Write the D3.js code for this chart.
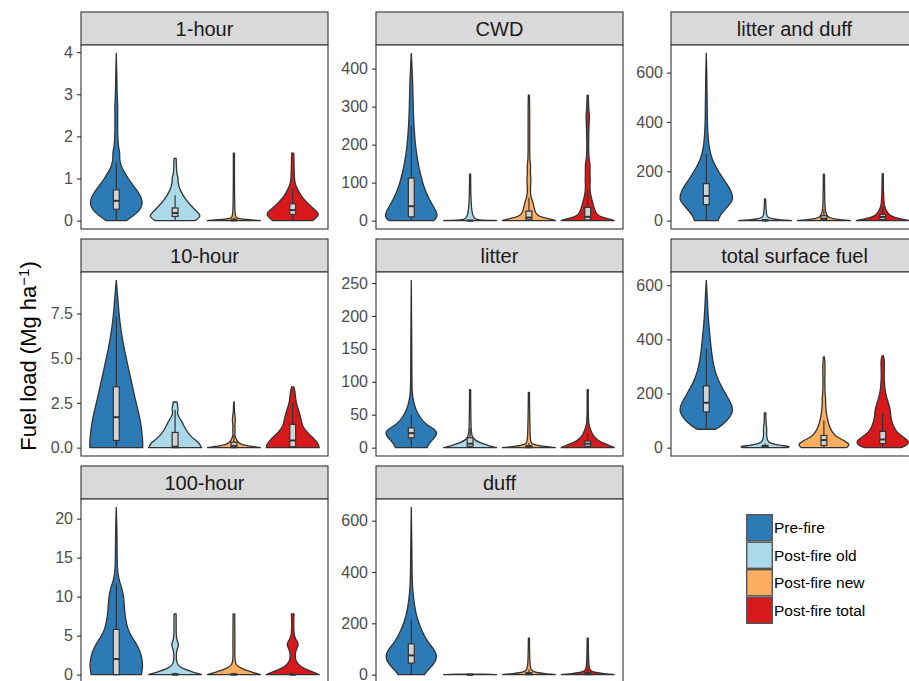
<!DOCTYPE html>
<html>
<head>
<meta charset="utf-8">
<script src="https://cdn.jsdelivr.net/npm/d3@7"></script>
<style>
  body { margin: 0; background: #fff; }
  svg { display: block; font-family: "Liberation Sans", Arial, Helvetica, sans-serif; }
</style>
</head>
<body>
<div class="chart"></div>
<script>
// groups and fill colours
const groups = ["Pre-fire", "Post-fire old", "Post-fire new", "Post-fire total"];
const fills = ["#2C7BB6", "#ABD9E9", "#FDAE61", "#D7191C"];

// facet names in reading order
const panelNames = ["1-hour", "CWD", "litter and duff", "10-hour", "litter", "total surface fuel", "100-hour", "duff"];

// y tick values for each facet
const ticks1hour = [0, 1, 2, 3, 4];
const ticksCWD = [0, 100, 200, 300, 400];
const ticksLitterDuff = [0, 200, 400, 600];
const ticks10hour = [0, 2.5, 5, 7.5];
const ticksLitter = [0, 50, 100, 150, 200, 250];
const ticksTotal = [0, 200, 400, 600];
const ticks100hour = [0, 5, 10, 15, 20];
const ticksDuff = [0, 200, 400, 600];

// violin outlines: [value, relative width] per group
const violin1hour = [
  [[0,0.38],[0.1,0.62],[0.25,0.9],[0.4,1.0],[0.55,0.95],[0.7,0.8],[0.85,0.62],[1.0,0.45],[1.15,0.3],[1.3,0.18],[1.45,0.12],[1.6,0.14],[1.75,0.08],[2.0,0.05],[2.5,0.05],[2.7,0.06],[3.0,0.03],[3.5,0.02],[3.97,0]],
  [[0,0.75],[0.1,1.0],[0.2,0.85],[0.3,0.68],[0.5,0.4],[0.7,0.2],[0.9,0.1],[1.03,0.12],[1.1,0.06],[1.3,0.05],[1.48,0.04]],
  [[0,1.0],[0.02,0.6],[0.05,0.1],[0.1,0.03],[1.0,0.02],[1.6,0.02]],
  [[0,0.75],[0.1,0.95],[0.18,1.0],[0.3,0.75],[0.45,0.5],[0.6,0.3],[0.75,0.18],[0.85,0.1],[1.0,0.06],[1.3,0.05],[1.6,0.04]]
];
const violinCWD = [
  [[0,0.85],[10,1.0],[25,0.95],[50,0.72],[75,0.55],[100,0.42],[150,0.25],[200,0.15],[250,0.1],[300,0.07],[350,0.06],[400,0.03],[440,0]],
  [[0,1.0],[2,0.3],[5,0.03],[122,0.02]],
  [[0,1.0],[3,0.9],[8,0.5],[15,0.3],[25,0.22],[40,0.18],[50,0.15],[60,0.08],[80,0.05],[100,0.07],[110,0.08],[125,0.05],[145,0.07],[160,0.03],[200,0.03],[300,0.03],[330,0.02]],
  [[0,1.0],[3,0.9],[8,0.55],[15,0.35],[30,0.25],[50,0.18],[70,0.1],[90,0.08],[105,0.1],[125,0.08],[145,0.1],[165,0.04],[200,0.03],[260,0.05],[275,0.07],[290,0.04],[330,0.02]]
];
const violinLitterDuff = [
  [[0,0.45],[20,0.5],[50,0.75],[80,1.0],[100,1.0],[130,0.9],[160,0.7],[200,0.45],[250,0.2],[300,0.1],[350,0.06],[400,0.04],[500,0.03],[600,0.02],[678,0]],
  [[0,1.0],[3,0.6],[8,0.2],[15,0.08],[30,0.04],[88,0.02]],
  [[0,1.0],[3,0.7],[8,0.3],[15,0.15],[25,0.1],[40,0.05],[80,0.03],[188,0.02]],
  [[0,1.0],[5,0.8],[12,0.45],[20,0.3],[30,0.2],[45,0.12],[60,0.06],[100,0.03],[190,0.02]]
];
const violin10hour = [
  [[0,1.0],[0.5,1.0],[1.5,0.92],[2.5,0.75],[3.5,0.6],[4.5,0.45],[5.5,0.3],[6.5,0.18],[7.5,0.1],[8.5,0.05],[9.35,0]],
  [[0,1.0],[0.3,0.9],[0.6,0.6],[1.0,0.4],[1.4,0.28],[1.7,0.15],[1.9,0.08],[2.1,0.12],[2.3,0.1],[2.55,0.07]],
  [[0,1.0],[0.05,0.8],[0.15,0.3],[0.3,0.15],[0.45,0.1],[0.6,0.05],[0.8,0.03],[1.0,0.05],[1.2,0.03],[1.4,0.05],[1.6,0.06],[1.8,0.04],[2.0,0.02],[2.55,0.01]],
  [[0,1.0],[0.3,0.95],[0.7,0.65],[1.0,0.45],[1.3,0.35],[1.7,0.3],[2.1,0.22],[2.5,0.13],[2.9,0.1],[3.2,0.08],[3.4,0.04]]
];
const violinLitter = [
  [[0,0.6],[5,0.65],[12,0.8],[20,1.0],[28,0.9],[35,0.55],[45,0.35],[55,0.2],[65,0.12],[72,0.08],[80,0.04],[100,0.02],[150,0.02],[254,0]],
  [[0,1.0],[3,0.7],[7,0.4],[12,0.15],[18,0.06],[30,0.03],[88,0.02]],
  [[0,1.0],[2,0.5],[5,0.1],[10,0.04],[84,0.02]],
  [[0,1.0],[4,0.8],[8,0.5],[14,0.3],[20,0.18],[28,0.1],[35,0.04],[50,0.02],[88,0.02]]
];
const violinTotal = [
  [[68,0.35],[80,0.55],[100,0.8],[130,1.0],[150,1.0],[180,0.85],[220,0.6],[260,0.4],[300,0.28],[350,0.2],[400,0.15],[450,0.1],[500,0.06],[550,0.04],[618,0]],
  [[0,0.8],[3,1.0],[8,0.6],[15,0.2],[25,0.08],[50,0.05],[70,0.07],[90,0.03],[128,0.03]],
  [[0,0.85],[10,1.0],[25,0.8],[40,0.45],[60,0.3],[80,0.2],[100,0.15],[120,0.1],[160,0.06],[180,0.07],[200,0.04],[250,0.03],[300,0.05],[335,0.02]],
  [[0,0.7],[10,0.95],[25,1.0],[40,0.75],[60,0.5],[80,0.4],[110,0.3],[140,0.3],[170,0.2],[200,0.1],[250,0.05],[300,0.06],[320,0.07],[340,0.02]]
];
const violin100hour = [
  [[0,0.95],[1,1.0],[2,0.98],[3,0.9],[4,0.75],[5,0.55],[6,0.42],[7,0.36],[8,0.32],[9,0.3],[10,0.28],[11,0.22],[12,0.12],[13,0.05],[15,0.03],[18,0.03],[21.45,0]],
  [[0,1.0],[0.3,0.7],[0.8,0.25],[1.3,0.08],[2,0.04],[3,0.05],[3.6,0.12],[4,0.13],[4.5,0.06],[5,0.04],[7.8,0.04]],
  [[0,1.0],[0.3,0.7],[0.8,0.25],[1.3,0.06],[2,0.03],[4,0.04],[7.8,0.03]],
  [[0,1.0],[0.3,0.8],[0.8,0.4],[1.3,0.2],[2,0.08],[3,0.1],[3.6,0.2],[4,0.22],[4.6,0.1],[5.2,0.04],[7,0.04],[7.8,0.05]]
];
const violinDuff = [
  [[0,0.5],[15,0.6],[40,0.85],[70,1.0],[100,0.85],[130,0.6],[170,0.4],[210,0.25],[250,0.15],[300,0.08],[350,0.04],[400,0.03],[500,0.02],[652,0]],
  [[0,1.0],[1,0.9],[2,0.02]],
  [[0,1.0],[3,0.7],[8,0.25],[15,0.1],[30,0.05],[60,0.03],[142,0.02]],
  [[0,1.0],[3,0.7],[8,0.25],[15,0.1],[30,0.05],[60,0.03],[142,0.02]]
];

// box stats per group: [lower whisker, q1, median, q3, upper whisker]
const box1hour = [[0,0.27,0.47,0.73,1.38],[0,0.1,0.18,0.3,0.6],[0,0,0.01,0.03,0.07],[0,0.15,0.25,0.4,0.75]];
const boxCWD = [[0,10,38,112,250],[0,0,0,1,2],[0,2,8,25,60],[0,2,10,35,80]];
const boxLitterDuff = [[0,65,100,150,270],[0,0,1,3,6],[0,3,8,20,45],[0,5,15,25,55]];
const box10hour = [[0,0.4,1.7,3.4,7.3],[0,0,0.05,0.85,2.1],[0,0,0.1,0.3,0.7],[0,0.05,0.4,1.3,2.5]];
const boxLitter = [[0,15,22,30,50],[0,2,6,15,30],[0,0,1,3,7],[0,2,6,10,22]];
const boxTotal = [[68,132,166,228,365],[0,2,4,8,15],[0,8,28,45,100],[0,15,30,60,125]];
const box100hour = [[0,0,2,5.8,11.7],[0,0,0,0.1,0.25],[0,0,0,0.1,0.25],[0,0,0,0.1,0.25]];
const boxDuff = [[0,45,75,120,215],[0,0,0,1,2],[0,0,3,8,20],[0,0,3,8,20]];

const panels = [
  {violins: violin1hour, boxes: box1hour, ticks: ticks1hour, fmt: d3.format("d")},
  {violins: violinCWD, boxes: boxCWD, ticks: ticksCWD, fmt: d3.format("d")},
  {violins: violinLitterDuff, boxes: boxLitterDuff, ticks: ticksLitterDuff, fmt: d3.format("d")},
  {violins: violin10hour, boxes: box10hour, ticks: ticks10hour, fmt: d3.format(".1f")},
  {violins: violinLitter, boxes: boxLitter, ticks: ticksLitter, fmt: d3.format("d")},
  {violins: violinTotal, boxes: boxTotal, ticks: ticksTotal, fmt: d3.format("d")},
  {violins: violin100hour, boxes: box100hour, ticks: ticks100hour, fmt: d3.format("d")},
  {violins: violinDuff, boxes: boxDuff, ticks: ticksDuff, fmt: d3.format("d")}
];

var cfg = {
  width: 909,
  height: 681,
  colLeft: [81, 376, 671],
  rowTop: [45, 272, 499],
  panelW: 247,
  panelH: 184,
  stripH: 33,
  line: "#333333"
};

var svg = d3.select(".chart").append("svg")
    .attr("width", cfg.width)
    .attr("height", cfg.height);

svg.append("rect").attr("width", cfg.width).attr("height", cfg.height).attr("fill", "#fff");

function drawPanel(p, i){
  var name = panelNames[i];
  var left = cfg.colLeft[i % 3];
  var top = cfg.rowTop[Math.floor(i / 3)];

  var x = d3.scalePoint()
      .domain(groups)
      .range([0, cfg.panelW])
      .padding(0.6);
  var step = x.step();

  // y domain from the data, with ggplot's 5% expansion
  var allVals = p.violins.flat().map(d => d[0]);
  var lo = d3.min(allVals), hi = d3.max(allVals);
  var pad = (hi - lo) * 0.05;
  var y = d3.scaleLinear()
      .domain([lo - pad, hi + pad])
      .range([cfg.panelH, 0]);

  var g = svg.append("g")
      .attr("transform", `translate(${left},${top})`);

  // strip
  g.append("rect")
      .attr("x", 0).attr("y", -cfg.stripH)
      .attr("width", cfg.panelW).attr("height", cfg.stripH)
      .attr("fill", "#D9D9D9")
      .attr("stroke", cfg.line)
      .attr("stroke-width", 1.1);
  g.append("text")
      .attr("x", cfg.panelW / 2)
      .attr("y", -cfg.stripH / 2)
      .attr("dy", "0.35em")
      .attr("text-anchor", "middle")
      .attr("fill", "#1A1A1A")
      .style("font-size", "20px")
      .text(name);

  // panel background
  g.append("rect")
      .attr("width", cfg.panelW).attr("height", cfg.panelH)
      .attr("fill", "#fff");

  // violins
  p.violins.forEach(function(prof, k){
    var cx = x(groups[k]);
    var hw = step * 0.45;
    var area = d3.area()
        .curve(d3.curveBasis)
        .y(d => y(d[0]))
        .x0(d => cx - d[1] * hw)
        .x1(d => cx + d[1] * hw);
    g.append("path")
        .attr("d", area(prof))
        .attr("fill", fills[k])
        .attr("stroke", cfg.line)
        .attr("stroke-width", 1.3)
        .attr("stroke-linejoin", "round");
  });

  // boxplots
  p.boxes.forEach(function(b, k){
    var cx = x(groups[k]);
    var bw = step * 0.05;
    g.append("line")
        .attr("x1", cx).attr("x2", cx)
        .attr("y1", y(b[0])).attr("y2", y(b[1]))
        .attr("stroke", cfg.line).attr("stroke-width", 1.2);
    g.append("line")
        .attr("x1", cx).attr("x2", cx)
        .attr("y1", y(b[3])).attr("y2", y(b[4]))
        .attr("stroke", cfg.line).attr("stroke-width", 1.2);
    g.append("rect")
        .attr("x", cx - bw).attr("width", bw * 2)
        .attr("y", y(b[3])).attr("height", Math.max(y(b[1]) - y(b[3]), 0.5))
        .attr("fill", "#D3D3D3")
        .attr("stroke", cfg.line)
        .attr("stroke-width", 1.2);
    g.append("line")
        .attr("x1", cx - bw).attr("x2", cx + bw)
        .attr("y1", y(b[2])).attr("y2", y(b[2]))
        .attr("stroke", cfg.line).attr("stroke-width", 2);
  });

  // panel border
  g.append("rect")
      .attr("width", cfg.panelW).attr("height", cfg.panelH)
      .attr("fill", "none")
      .attr("stroke", cfg.line)
      .attr("stroke-width", 1.1);

  // y axis
  var axis = g.append("g")
      .call(d3.axisLeft(y).tickValues(p.ticks).tickFormat(p.fmt).tickSize(4).tickPadding(4));
  axis.select(".domain").remove();
  axis.selectAll(".tick line").attr("stroke", cfg.line).attr("stroke-width", 1.1);
  axis.selectAll(".tick text")
      .attr("fill", "#4D4D4D")
      .style("font-size", "16px")
      .style("font-family", "'Liberation Sans', Arial, sans-serif");
}

panels.forEach(drawPanel);

// y axis title
var title = svg.append("text")
    .attr("transform", "translate(36,356) rotate(-90)")
    .attr("text-anchor", "middle")
    .attr("fill", "#000")
    .style("font-size", "22px");
title.append("tspan").text("Fuel load (Mg ha");
title.append("tspan").attr("dy", "-0.5em").style("font-size", "15px").text("\u22121");
title.append("tspan").attr("dy", "0.35em").text(")");

// legend
var legend = svg.append("g").attr("transform", "translate(746,514)");
var keyH = 27.5;
groups.forEach(function(name, k){
  legend.append("rect")
      .attr("x", 0.7).attr("y", k * keyH + 0.7)
      .attr("width", 25.6).attr("height", keyH - 1.4)
      .attr("fill", fills[k])
      .attr("stroke", "#555")
      .attr("stroke-width", 1.4);
  legend.append("text")
      .attr("x", 28)
      .attr("y", k * keyH + keyH / 2)
      .attr("dy", "0.35em")
      .attr("fill", "#000")
      .style("font-size", "15.5px")
      .text(name);
});
</script>
</body>
</html>
